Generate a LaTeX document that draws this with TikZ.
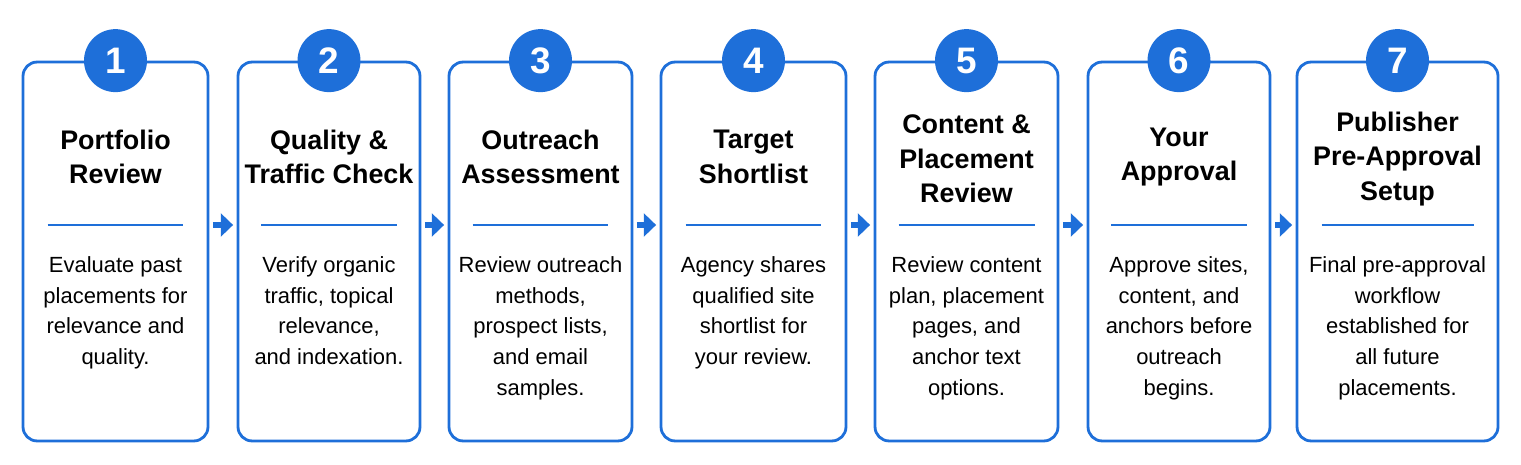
\documentclass[tikz,border=0pt]{standalone}
\usepackage{fontspec}
\setmainfont{Liberation Sans}
\usetikzlibrary{arrows.meta}
\definecolor{stepblue}{HTML}{1E6FD9}
\tikzstyle{card}=[draw=stepblue,line width=1.6pt,rounded corners=8pt]
\tikzstyle{badge}=[fill=stepblue,circle,minimum size=1.26cm,inner sep=0pt,text=white,font=\fontsize{21}{21}\selectfont\bfseries]
\tikzstyle{title}=[align=center,font=\fontsize{15.3}{19.5}\selectfont\bfseries]
\tikzstyle{body}=[align=center,anchor=north,font=\fontsize{12.5}{17.6}\selectfont]
\tikzstyle{rule}=[draw=stepblue,line width=1.2pt]
\tikzstyle{next}=[draw=stepblue,line width=3.4pt,-{Triangle[length=7pt,width=13pt]}]

\begin{document}
\begin{tikzpicture}[x=0.02cm,y=-0.02cm]
\useasboundingbox (0,0) rectangle (1521,465);
\node[card,minimum width=3.70cm,minimum height=7.58cm] (Box1) at (115.5,251.5) {};
\node[card,minimum width=3.64cm,minimum height=7.58cm] (Box2) at (329,251.5) {};
\node[card,minimum width=3.66cm,minimum height=7.58cm] (Box3) at (540.5,251.5) {};
\node[card,minimum width=3.70cm,minimum height=7.58cm] (Box4) at (753.5,251.5) {};
\node[card,minimum width=3.66cm,minimum height=7.58cm] (Box5) at (966.5,251.5) {};
\node[card,minimum width=3.64cm,minimum height=7.58cm] (Box6) at (1179,251.5) {};
\node[card,minimum width=4.02cm,minimum height=7.58cm] (Box7) at (1397.5,251.5) {};
\node[badge] (N1) at (Box1.north) {1};
\node[badge] (N2) at (Box2.north) {2};
\node[badge] (N3) at (Box3.north) {3};
\node[badge] (N4) at (Box4.north) {4};
\node[badge] (N5) at (Box5.north) {5};
\node[badge] (N6) at (Box6.north) {6};
\node[badge] (N7) at (Box7.north) {7};
\node[title] (T1) at (Box1.north |- 0,157) {Portfolio\\Review};
\node[title] (T2) at (Box2.north |- 0,157) {Quality \&\\Traffic Check};
\node[title] (T3) at (Box3.north |- 0,157) {Outreach\\Assessment};
\node[title] (T4) at (Box4.north |- 0,157) {Target\\Shortlist};
\node[title] (T5) at (Box5.north |- 0,159) {Content \&\\Placement\\Review};
\node[title] (T6) at (Box6.north |- 0,157) {Your\\Approval};
\node[title] (T7) at (Box7.north |- 0,159) {Publisher\\Pre-Approval\\Setup};
\draw[rule] ([xshift=-1.36cm]Box1.north |- 0,225) -- ([xshift=1.36cm]Box1.north |- 0,225);
\draw[rule] ([xshift=-1.36cm]Box2.north |- 0,225) -- ([xshift=1.36cm]Box2.north |- 0,225);
\draw[rule] ([xshift=-1.36cm]Box3.north |- 0,225) -- ([xshift=1.36cm]Box3.north |- 0,225);
\draw[rule] ([xshift=-1.36cm]Box4.north |- 0,225) -- ([xshift=1.36cm]Box4.north |- 0,225);
\draw[rule] ([xshift=-1.36cm]Box5.north |- 0,225) -- ([xshift=1.36cm]Box5.north |- 0,225);
\draw[rule] ([xshift=-1.36cm]Box6.north |- 0,225) -- ([xshift=1.36cm]Box6.north |- 0,225);
\draw[rule] ([xshift=-1.52cm]Box7.north |- 0,225) -- ([xshift=1.52cm]Box7.north |- 0,225);
\node[body] (D1) at (Box1.north |- 0,250) {Evaluate past\\placements for\\relevance and\\quality.};
\node[body] (D2) at (Box2.north |- 0,250) {Verify organic\\traffic, topical\\relevance,\\and indexation.};
\node[body] (D3) at (Box3.north |- 0,250) {Review outreach\\methods,\\prospect lists,\\and email\\samples.};
\node[body] (D4) at (Box4.north |- 0,250) {Agency shares\\qualified site\\shortlist for\\your review.};
\node[body] (D5) at (Box5.north |- 0,250) {Review content\\plan, placement\\pages, and\\anchor text\\options.};
\node[body] (D6) at (Box6.north |- 0,250) {Approve sites,\\content, and\\anchors before\\outreach\\begins.};
\node[body] (D7) at (Box7.north |- 0,250) {Final pre-approval\\workflow\\established for\\all future\\placements.};
\draw[next] ([xshift=2pt]Box1.east |- 0,225) -- ([xshift=-2pt]Box2.west |- 0,225);
\draw[next] ([xshift=2pt]Box2.east |- 0,225) -- ([xshift=-2pt]Box3.west |- 0,225);
\draw[next] ([xshift=2pt]Box3.east |- 0,225) -- ([xshift=-2pt]Box4.west |- 0,225);
\draw[next] ([xshift=2pt]Box4.east |- 0,225) -- ([xshift=-2pt]Box5.west |- 0,225);
\draw[next] ([xshift=2pt]Box5.east |- 0,225) -- ([xshift=-2pt]Box6.west |- 0,225);
\draw[next] ([xshift=2pt]Box6.east |- 0,225) -- ([xshift=-2pt]Box7.west |- 0,225);
\end{tikzpicture}
\end{document}
